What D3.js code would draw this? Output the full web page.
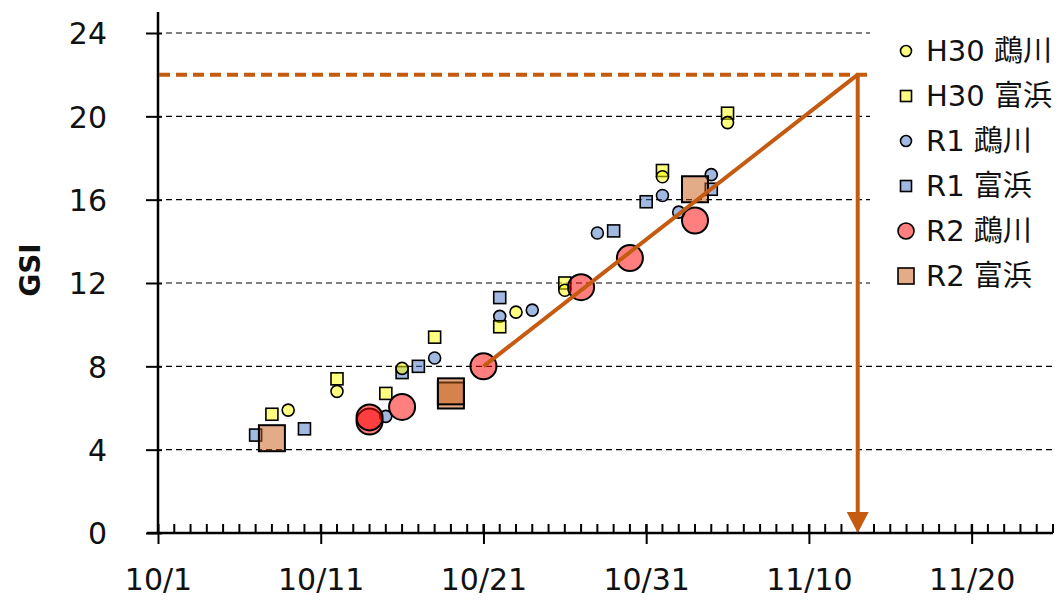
<!DOCTYPE html>
<html>
<head>
<meta charset="utf-8">
<script src="https://cdn.jsdelivr.net/npm/d3@7"></script>
<style>
  body { margin: 0; background: #fff; }
  text { font-family: "DejaVu Sans", "Noto Sans CJK JP", sans-serif; fill: #111; }
</style>
</head>
<body>
<div id="my_dataviz"></div>
<script>
// data (month/day, all plotted on one season axis)
var h30UkawaDates = ["10/9", "10/12", "10/16", "10/23", "10/26", "11/1", "11/5"];
var h30UkawaValues = [5.9, 6.8, 7.9, 10.6, 11.65, 17.1, 19.7];
var h30TomihamaDates = ["10/8", "10/12", "10/15", "10/18", "10/22", "10/26", "11/1", "11/5"];
var h30TomihamaValues = [5.7, 7.4, 6.7, 9.4, 9.9, 12.0, 17.4, 20.15];
var r1UkawaDates = ["10/15", "10/18", "10/22", "10/24", "10/28", "11/1", "11/2", "11/4"];
var r1UkawaValues = [5.6, 8.4, 10.4, 10.7, 14.4, 16.2, 15.4, 17.2];
var r1TomihamaDates = ["10/7", "10/10", "10/16", "10/17", "10/22", "10/29", "10/31", "11/4"];
var r1TomihamaValues = [4.7, 5.0, 7.7, 8.0, 11.3, 14.5, 15.9, 16.5];
var r2UkawaDates = ["10/14", "10/14", "10/16", "10/21", "10/27", "10/30", "11/3"];
var r2UkawaValues = [5.35, 5.55, 6.05, 8.0, 11.8, 13.2, 15.0];
var r2TomihamaDates = ["10/8", "10/19", "10/19", "11/3"];
var r2TomihamaValues = [4.55, 6.6, 6.8, 16.5];

var fitDates = ["10/21", "11/13"];
var fitValues = [8, 22];

var seriesNames = ["H30 鵡川", "H30 富浜", "R1 鵡川", "R1 富浜", "R2 鵡川", "R2 富浜"];
var xTickLabels = ["10/1", "10/11", "10/21", "10/31", "11/10", "11/20"];
var yTickValues = [0, 4, 8, 12, 16, 20, 24];
var xDomain = ["10/1", "11/25"];

var parse = function(s) { return d3.timeParse("%Y/%m/%d")("2020/" + s); };

var width = 1061, height = 600;
var x0 = 158, x1 = 1053, yTop = 33, yBottom = 533;

var svg = d3.select("#my_dataviz")
  .append("svg")
    .attr("width", width)
    .attr("height", height);

var x = d3.scaleTime()
  .domain(xDomain.map(parse))
  .range([x0, x1]);
var y = d3.scaleLinear()
  .domain([0, 24])
  .range([yBottom, yTop]);

// gridlines
svg.append("g")
  .selectAll("line")
  .data(yTickValues.filter(function(d) { return d > 0; }))
  .enter()
  .append("line")
    .attr("x1", x0 + 8)
    .attr("x2", x1)
    .attr("y1", function(d) { return y(d); })
    .attr("y2", function(d) { return y(d); })
    .attr("stroke", "#000")
    .attr("stroke-width", 1.2)
    .attr("stroke-dasharray", "6,4");

// y axis
var yAxis = svg.append("g")
  .attr("transform", "translate(" + x0 + ",0)")
  .call(d3.axisLeft(y).tickValues(yTickValues).tickSize(12).tickPadding(40));
yAxis.select(".domain").remove();
yAxis.selectAll(".tick line").attr("x2", -12).attr("x1", 4).attr("stroke", "#000").attr("stroke-width", 2);
yAxis.selectAll("text")
  .style("font-size", "30px")
  .style("font-family", "DejaVu Sans")
  .attr("x", -51)
  .attr("dy", "0.36em");
svg.append("line")
  .attr("x1", x0).attr("x2", x0)
  .attr("y1", 12).attr("y2", yBottom)
  .attr("stroke", "#000").attr("stroke-width", 2.5);

// x axis: minor day ticks up, major ticks crossing
var xAxis = svg.append("g")
  .attr("transform", "translate(0," + yBottom + ")");
xAxis.append("line")
  .attr("x1", x0 - 11).attr("x2", x1)
  .attr("stroke", "#000").attr("stroke-width", 2.5);
xAxis.selectAll(".minor")
  .data(d3.timeDay.range(parse(xDomain[0]), d3.timeDay.offset(parse(xDomain[1]), 1)))
  .enter()
  .append("line")
    .attr("class", "minor")
    .attr("x1", function(d) { return x(d); })
    .attr("x2", function(d) { return x(d); })
    .attr("y1", 0).attr("y2", -9)
    .attr("stroke", "#000").attr("stroke-width", 2);
var major = d3.axisBottom(x)
  .tickValues(xTickLabels.map(parse))
  .tickFormat(d3.timeFormat("%-m/%-d"))
  .tickSize(11)
  .tickPadding(25);
var xMajor = xAxis.append("g").call(major);
xMajor.select(".domain").remove();
xMajor.selectAll(".tick line").attr("y1", -9).attr("stroke", "#000").attr("stroke-width", 2);
xMajor.selectAll("text")
  .style("font-size", "30px")
  .style("font-family", "DejaVu Sans");

// y label
svg.append("text")
  .attr("transform", "translate(40,270) rotate(-90)")
  .style("text-anchor", "middle")
  .style("font-size", "28px")
  .style("font-weight", "bold")
  .text("GSI");

// markers
function zip(dates, values) {
  return dates.map(function(d, i) { return { date: parse(d), value: values[i] }; });
}
function drawCircles(data, r, color) {
  svg.append("g").selectAll("circle")
    .data(data)
    .enter()
    .append("circle")
      .attr("cx", function(d) { return x(d.date); })
      .attr("cy", function(d) { return y(d.value); })
      .attr("r", r)
      .attr("fill", color)
      .attr("fill-opacity", 0.5)
      .attr("stroke", "#000")
      .attr("stroke-width", r > 8 ? 2 : 1.6);
}
function drawSquares(data, s, color) {
  svg.append("g").selectAll("rect")
    .data(data)
    .enter()
    .append("rect")
      .attr("x", function(d) { return x(d.date) - s / 2; })
      .attr("y", function(d) { return y(d.value) - s / 2; })
      .attr("width", s)
      .attr("height", s)
      .attr("fill", color)
      .attr("fill-opacity", 0.5)
      .attr("stroke", "#000")
      .attr("stroke-width", s > 16 ? 2 : 1.6);
}

var colors = ["#FFFF00", "#FFFF00", "#4472C4", "#4472C4", "#FF0000", "#C55A11"];

drawSquares(zip(r1TomihamaDates, r1TomihamaValues), 12, colors[3]);
drawCircles(zip(r1UkawaDates, r1UkawaValues), 6, colors[2]);
drawSquares(zip(h30TomihamaDates, h30TomihamaValues), 12, colors[1]);
drawCircles(zip(h30UkawaDates, h30UkawaValues), 6, colors[0]);
drawSquares(zip(r2TomihamaDates, r2TomihamaValues), 26, colors[5]);
drawCircles(zip(r2UkawaDates, r2UkawaValues), 13, colors[4]);

// fitted line and reading arrow
var orange = "#C55A11";
var fit = zip(fitDates, fitValues);
svg.append("path")
  .datum(fit)
  .attr("fill", "none")
  .attr("stroke", orange)
  .attr("stroke-width", 4)
  .attr("d", d3.line()
    .x(function(d) { return x(d.date); })
    .y(function(d) { return y(d.value); }));

svg.append("line")
  .attr("x1", x0 + 1)
  .attr("x2", x(fit[1].date) + 12)
  .attr("y1", y(fit[1].value))
  .attr("y2", y(fit[1].value))
  .attr("stroke", orange)
  .attr("stroke-width", 4)
  .attr("stroke-dasharray", "11,6");

svg.append("line")
  .attr("x1", x(fit[1].date))
  .attr("x2", x(fit[1].date))
  .attr("y1", y(fit[1].value))
  .attr("y2", y(0) - 18)
  .attr("stroke", orange)
  .attr("stroke-width", 4);
svg.append("path")
  .attr("d", "M" + (x(fit[1].date) - 11) + "," + (y(0) - 21) +
             "L" + (x(fit[1].date) + 11) + "," + (y(0) - 21) +
             "L" + x(fit[1].date) + "," + y(0) + "Z")
  .attr("fill", orange);

// legend
var legend = svg.append("g");
legend.append("rect")
  .attr("x", 870).attr("y", 18)
  .attr("width", 191).attr("height", 282)
  .attr("fill", "#fff");
var legendY = d3.scalePoint().domain(seriesNames).range([51, 276]);
seriesNames.forEach(function(name, i) {
  var cy = legendY(name);
  var big = i >= 4;
  if (i % 2 === 0) {
    legend.append("circle")
      .attr("cx", 906).attr("cy", cy)
      .attr("r", big ? 8 : 5.5)
      .attr("fill", colors[i]).attr("fill-opacity", 0.5)
      .attr("stroke", "#000").attr("stroke-width", 1.6);
  } else {
    var s = big ? 16 : 11;
    legend.append("rect")
      .attr("x", 906 - s / 2).attr("y", cy - s / 2)
      .attr("width", s).attr("height", s)
      .attr("fill", colors[i]).attr("fill-opacity", 0.5)
      .attr("stroke", "#000").attr("stroke-width", 1.6);
  }
  legend.append("text")
    .attr("x", 926)
    .attr("y", cy)
    .attr("dy", "0.36em")
    .style("font-size", "29px")
    .text(name);
});
</script>
</body>
</html>
